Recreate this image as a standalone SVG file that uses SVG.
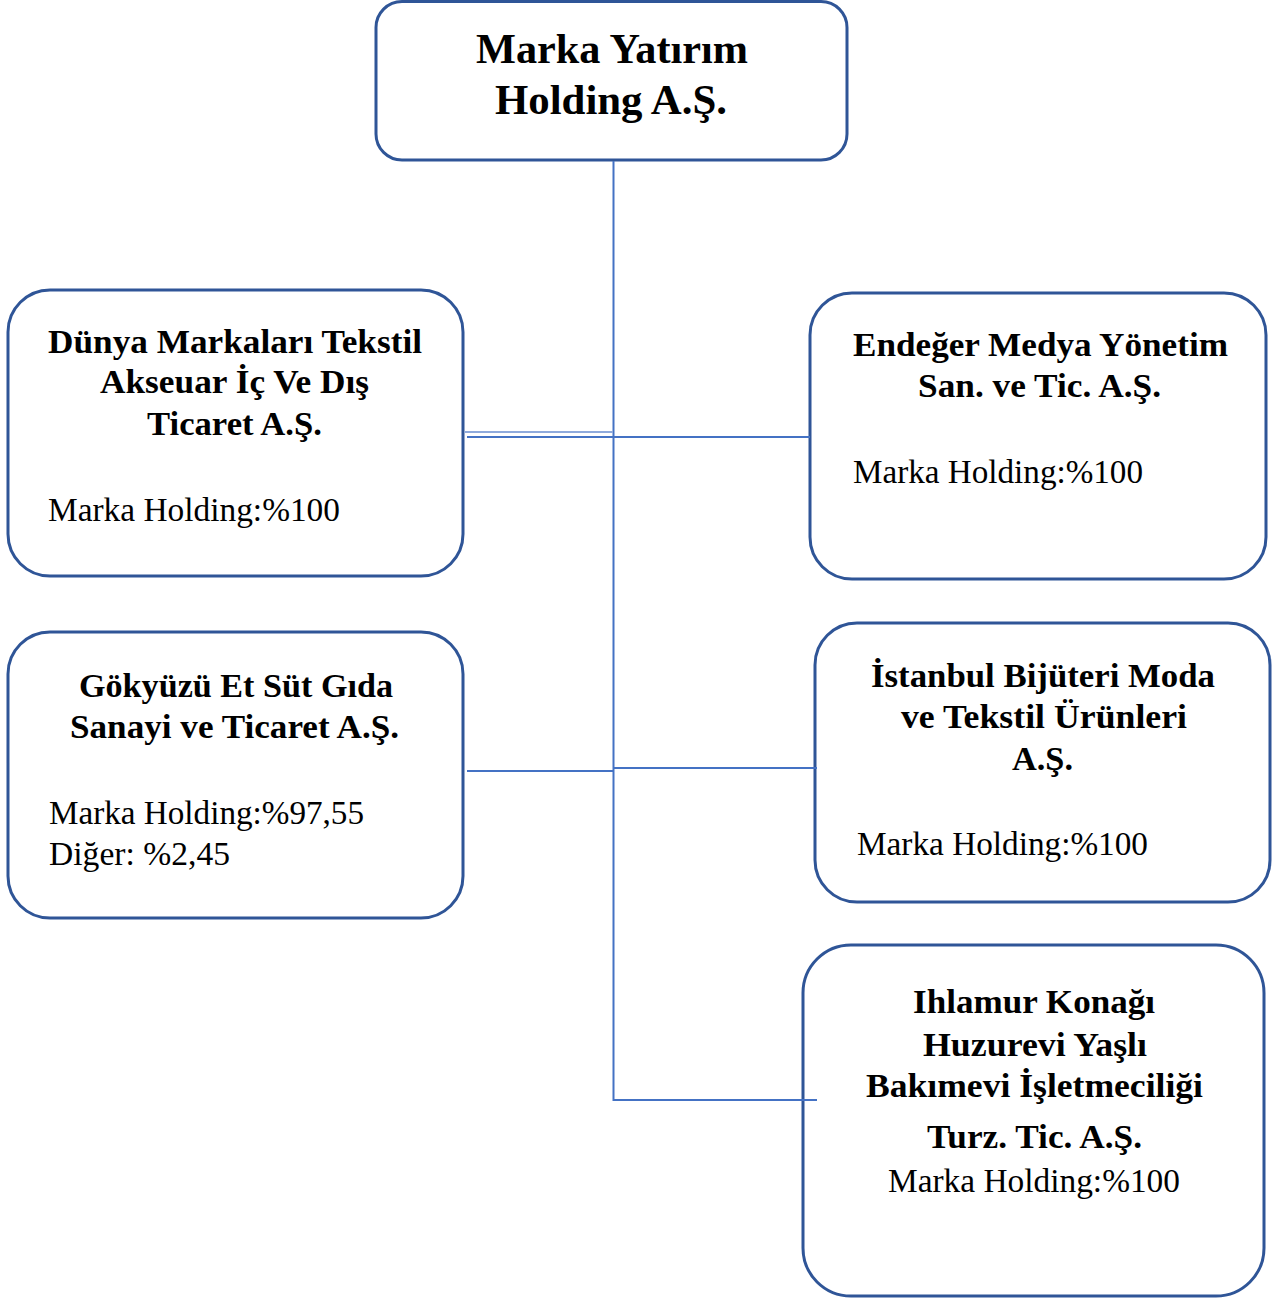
<svg xmlns="http://www.w3.org/2000/svg" width="1273" height="1299" viewBox="0 0 1273 1299">
<style>
.box{fill:#ffffff;stroke:#2F5597;stroke-width:3}
.c{fill:none;stroke:#4472C4;stroke-width:2}
.b{font-family:"Liberation Serif","Times New Roman",serif;font-weight:bold;font-size:34px;fill:#000}
.t{font-family:"Liberation Serif","Times New Roman",serif;font-weight:bold;font-size:43px;fill:#000}
.r{font-family:"Liberation Serif","Times New Roman",serif;font-size:34px;fill:#000}
</style>
<rect width="1273" height="1299" fill="#ffffff"/>
<g id="node-holding">
<rect class="box" x="376" y="1.5" width="471" height="158.5" rx="26"/>
<text class="t" x="476" y="63" textLength="272" lengthAdjust="spacingAndGlyphs">Marka  Yatırım</text>
<text class="t" x="495" y="114" textLength="232" lengthAdjust="spacingAndGlyphs">Holding A.Ş.</text>
</g>
<g id="node-dunya">
<rect class="box" x="8" y="290" width="455" height="286" rx="42"/>
<text class="b" x="48" y="353" textLength="374" lengthAdjust="spacingAndGlyphs">Dünya Markaları Tekstil</text>
<text class="b" x="100" y="393" textLength="269" lengthAdjust="spacingAndGlyphs">Akseuar İç Ve Dış</text>
<text class="b" x="147" y="435" textLength="175" lengthAdjust="spacingAndGlyphs">Ticaret A.Ş.</text>
<text class="r" x="48" y="521" textLength="292" lengthAdjust="spacingAndGlyphs">Marka Holding:%100</text>
</g>
<g id="node-endeger">
<rect class="box" x="810" y="293" width="456" height="286" rx="42"/>
<text class="b" x="853" y="356" textLength="375" lengthAdjust="spacingAndGlyphs">Endeğer Medya Yönetim</text>
<text class="b" x="918" y="397" textLength="243" lengthAdjust="spacingAndGlyphs">San.  ve Tic. A.Ş.</text>
<text class="r" x="853" y="483" textLength="290" lengthAdjust="spacingAndGlyphs">Marka Holding:%100</text>
</g>
<g id="node-gokyuzu">
<rect class="box" x="8" y="632" width="455" height="286" rx="42"/>
<text class="b" x="79" y="697" textLength="314" lengthAdjust="spacingAndGlyphs">Gökyüzü  Et Süt Gıda</text>
<text class="b" x="70" y="738" textLength="329" lengthAdjust="spacingAndGlyphs">Sanayi  ve Ticaret A.Ş.</text>
<text class="r" x="49" y="824" textLength="315" lengthAdjust="spacingAndGlyphs">Marka Holding:%97,55</text>
<text class="r" x="49" y="865" textLength="181" lengthAdjust="spacingAndGlyphs">Diğer: %2,45</text>
</g>
<g id="node-istanbul">
<rect class="box" x="815" y="623" width="455" height="279" rx="42"/>
<text class="b" x="871" y="687" textLength="344" lengthAdjust="spacingAndGlyphs">İstanbul Bijüteri Moda</text>
<text class="b" x="901" y="728" textLength="286" lengthAdjust="spacingAndGlyphs">ve Tekstil Ürünleri</text>
<text class="b" x="1012" y="770" textLength="61" lengthAdjust="spacingAndGlyphs">A.Ş.</text>
<text class="r" x="857" y="855" textLength="291" lengthAdjust="spacingAndGlyphs">Marka Holding:%100</text>
</g>
<g id="node-ihlamur">
<rect class="box" x="803" y="945" width="461" height="351" rx="48"/>
<text class="b" x="913" y="1013" textLength="242" lengthAdjust="spacingAndGlyphs">Ihlamur  Konağı</text>
<text class="b" x="923" y="1056" textLength="224" lengthAdjust="spacingAndGlyphs">Huzurevi Yaşlı</text>
<text class="b" x="866" y="1097" textLength="337" lengthAdjust="spacingAndGlyphs">Bakımevi İşletmeciliği</text>
<text class="b" x="927" y="1148" textLength="215" lengthAdjust="spacingAndGlyphs">Turz.  Tic. A.Ş.</text>
<text class="r" x="888" y="1192" textLength="292" lengthAdjust="spacingAndGlyphs">Marka Holding:%100</text>
</g>
<g id="connectors">
<line class="c" x1="613.5" y1="161" x2="613.5" y2="1101"/>
<line x1="465" y1="432" x2="613" y2="432" stroke="#8FAADC" stroke-width="2"/>
<line class="c" x1="467" y1="437" x2="810" y2="437"/>
<line class="c" x1="467" y1="771" x2="614" y2="771"/>
<line class="c" x1="614" y1="768" x2="817" y2="768"/>
<line class="c" x1="613" y1="1100" x2="817" y2="1100"/>
</g>
</svg>
